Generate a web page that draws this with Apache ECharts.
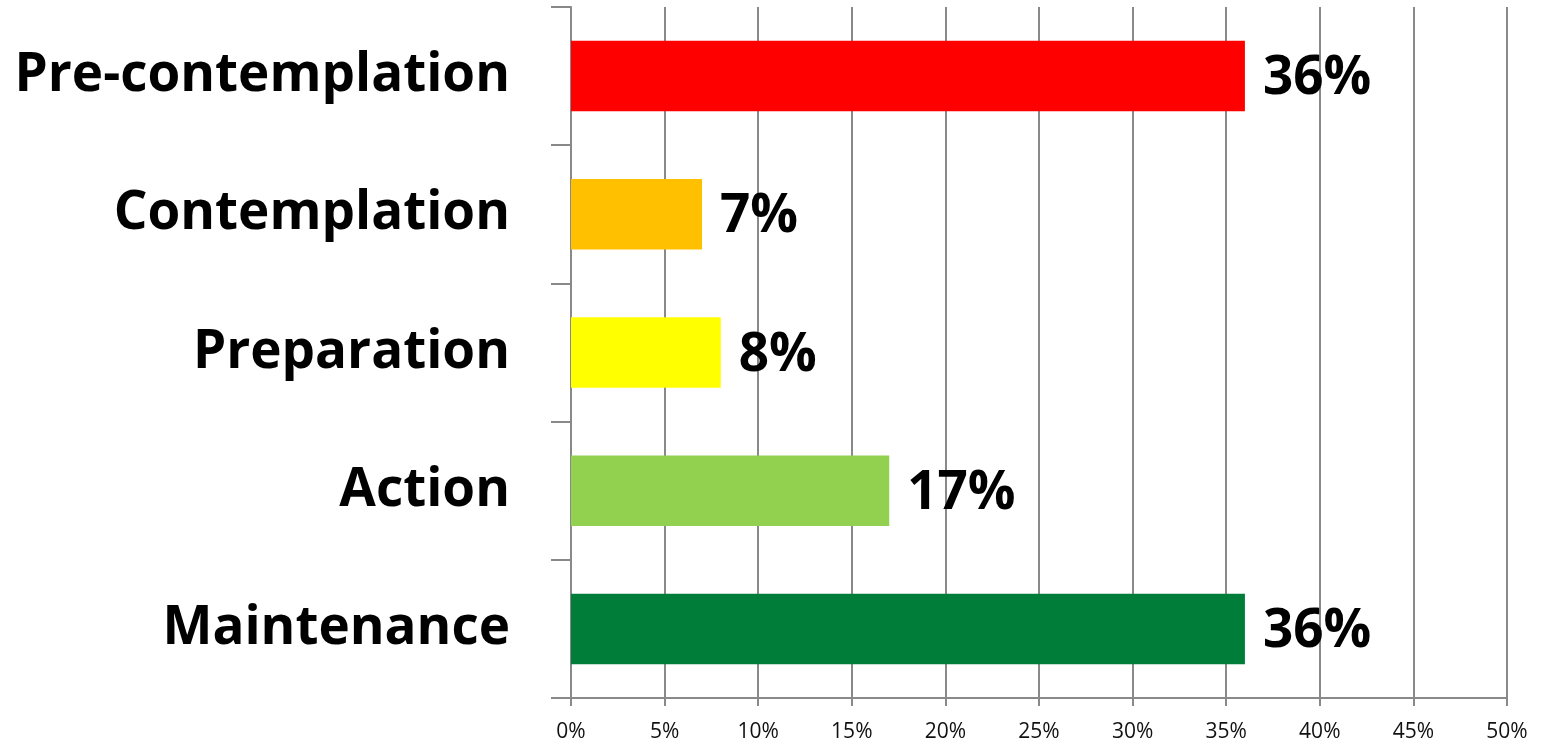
<!DOCTYPE html>
<html>
<head>
<meta charset="utf-8">
<script src="https://cdn.jsdelivr.net/npm/echarts@6/dist/echarts.min.js"></script>
<style>
  html, body { margin: 0; padding: 0; background: #fff; }
  #chart { width: 1543px; height: 745px; }
</style>
</head>
<body>
<div id="chart"></div>
<script>
var stages = ['Pre-contemplation', 'Contemplation', 'Preparation', 'Action', 'Maintenance'];
var shares = [36, 7, 8, 17, 36];
var barColors = ['#FF0000', '#FFC000', '#FFFF00', '#92D050', '#007E39'];

var chart = echarts.init(document.getElementById('chart'));

var axisGrey = '#898989';

var option = {
    animation: false,
    grid: {
        left: 571,
        right: 36,
        top: 7,
        bottom: 47
    },
    xAxis: {
        type: 'value',
        min: 0,
        max: 50,
        interval: 5,
        axisLine: { show: true, lineStyle: { color: axisGrey, width: 2 } },
        axisTick: { show: true, length: 8, lineStyle: { color: axisGrey, width: 2 } },
        splitLine: { show: true, lineStyle: { color: axisGrey, width: 2 } },
        axisLabel: {
            formatter: '{value}%',
            fontFamily: 'Open Sans',
            fontSize: 21,
            color: '#111',
            margin: 24
        }
    },
    yAxis: {
        type: 'category',
        inverse: true,
        data: stages,
        axisLine: { show: true, lineStyle: { color: axisGrey, width: 2 } },
        axisTick: { show: true, length: 20, lineStyle: { color: axisGrey, width: 2 } },
        axisLabel: {
            fontFamily: 'Open Sans',
            fontWeight: 'bold',
            fontSize: 53,
            color: '#000',
            margin: 61
        }
    },
    series: [{
        type: 'bar',
        data: shares.map(function (v, i) {
            return { value: v, itemStyle: { color: barColors[i] } };
        }),
        barCategoryGap: '49%',
        label: {
            show: true,
            position: 'right',
            distance: 18,
            offset: [0, 3],
            formatter: '{c}%',
            fontFamily: 'Open Sans',
            fontWeight: 'bold',
            fontSize: 53,
            color: '#000'
        }
    }]
};

chart.setOption(option);
</script>
</body>
</html>
